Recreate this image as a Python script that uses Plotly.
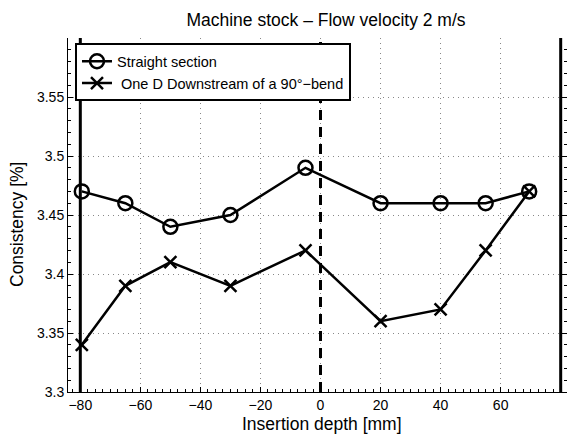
import plotly.graph_objects as go

# ---- data ----
depth = [-79.5, -65, -50, -30, -5, 20, 40, 55, 69.5]
straight_section = [3.47, 3.46, 3.44, 3.45, 3.49, 3.46, 3.46, 3.46, 3.47]
downstream_bend = [3.34, 3.39, 3.41, 3.39, 3.42, 3.36, 3.37, 3.42, 3.47]
series_names = ["Straight section", " One D Downstream of a 90°\u2212bend"]

x_ticks = [-80, -60, -40, -20, 0, 20, 40, 60, 80]
y_ticks = [3.3, 3.35, 3.4, 3.45, 3.5, 3.55]
y_tick_text = ["3.3", "3.35", "3.4", "3.45", "3.5", "3.55"]
wall_positions = [-80, 80]
center_positions = [0]

FONT = "Liberation Sans, Arial, Helvetica, sans-serif"

fig = go.Figure()
fig.add_trace(go.Scatter(
    x=depth, y=straight_section, name=series_names[0], mode="lines+markers",
    line=dict(color="black", width=2.5),
    marker=dict(symbol="circle-open", size=14, color="black", line=dict(width=2.5, color="black")),
))
fig.add_trace(go.Scatter(
    x=depth, y=downstream_bend, name=series_names[1], mode="lines+markers",
    line=dict(color="black", width=2.5),
    marker=dict(symbol="x-thin-open", size=12, color="black", line=dict(width=2.5, color="black")),
))

for xv in wall_positions:
    fig.add_shape(type="line", xref="x", yref="paper", x0=xv, x1=xv, y0=0, y1=1,
                  line=dict(color="black", width=3), layer="above")
for xv in center_positions:
    fig.add_shape(type="line", xref="x", yref="paper", x0=xv, x1=xv, y0=0, y1=1,
                  line=dict(color="black", width=3, dash="10px,7px"), layer="above")

fig.update_layout(
    width=567, height=434,
    margin=dict(l=68, r=0, t=38, b=42),
    plot_bgcolor="white", paper_bgcolor="white",
    font=dict(family=FONT, color="black", size=14),
    title=dict(text="Machine stock \u2013 Flow velocity 2 m/s", x=326 / 567, xref="container",
               xanchor="center", y=1 - 20 / 434, yref="container", yanchor="middle",
               font=dict(size=17.5, family=FONT, color="black")),
    showlegend=True,
    legend=dict(x=0.014, y=0.985, xanchor="left", yanchor="top",
                bgcolor="white", bordercolor="black", borderwidth=2,
                font=dict(size=14.5, family=FONT, color="black"),
                itemwidth=30, tracegroupgap=0),
    annotations=[
        dict(text="Insertion depth [mm]", xref="paper", yref="paper",
             x=(322 - 68) / 499, y=(392 - 424) / 354, xanchor="center", yanchor="middle",
             showarrow=False, font=dict(size=17.5, family=FONT, color="black")),
        dict(text="Consistency [%]", xref="paper", yref="paper",
             x=(17 - 68) / 499, y=(392 - 225) / 354, xanchor="center", yanchor="middle",
             textangle=-90, showarrow=False, font=dict(size=17.5, family=FONT, color="black")),
    ],
)

fig.update_xaxes(
    range=[-84.1, 82.1], tickvals=x_ticks, ticks="inside", ticklen=5, tickcolor="black",
    showline=True, linecolor="black", linewidth=1, mirror=False, zeroline=False,
    showgrid=True, gridcolor="#888888", griddash="1px,4px", gridwidth=1,
    tickfont=dict(size=14, family=FONT, color="black"),
    minor=dict(ticks="inside", dtick=2.5, tick0=0, ticklen=3, tickcolor="black", showgrid=False),
)
fig.update_yaxes(
    range=[3.3, 3.6], tickvals=y_ticks, ticktext=y_tick_text, ticks="inside", ticklen=5,
    tickcolor="black", showline=True, linecolor="black", linewidth=1, mirror="ticks",
    zeroline=False, showgrid=True, gridcolor="#888888", griddash="1px,4px", gridwidth=1,
    tickfont=dict(size=14, family=FONT, color="black"),
    minor=dict(ticks="inside", dtick=0.01, tick0=3.3, ticklen=3, tickcolor="black", showgrid=False),
)

fig.write_html("out.html")
